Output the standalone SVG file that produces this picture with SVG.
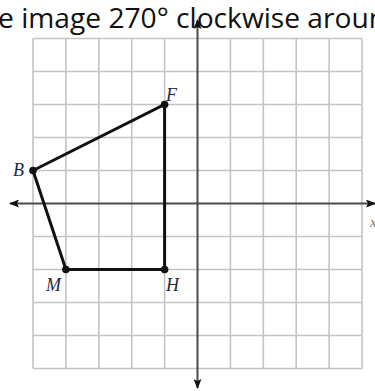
<svg xmlns="http://www.w3.org/2000/svg" width="375" height="391" viewBox="0 0 375 391">
<style>
.grid{stroke:#c4c4c4;stroke-width:1.6;fill:none}
.axis{stroke:#4a4a4a;stroke-width:2;fill:none}
.edge{stroke:#111;stroke-width:3;fill:none;stroke-linecap:round}
.pt{fill:#111}
.lbl{font-family:"Liberation Serif",serif;font-style:italic;font-size:18px;fill:#1e2a44}
.title{font-family:"Open Sans","Liberation Sans",sans-serif;font-size:28px;fill:#111}
</style>
<defs>
<marker id="ah" viewBox="0 0 10 8" refX="9" refY="4" markerWidth="10" markerHeight="8" markerUnits="userSpaceOnUse" orient="auto">
<path d="M0,0 L10,4 L0,8 L2,4 Z" fill="#111"/>
</marker>
</defs>
<rect width="375" height="391" fill="#fff"/>
<text class="title" x="-2" y="28" textLength="388" lengthAdjust="spacingAndGlyphs">e image 270° clockwise aroun</text>
<g id="grid" class="grid">
<path d="M33,38.5V368.5M65.9,38.5V368.5M98.8,38.5V368.5M131.7,38.5V368.5M164.6,38.5V368.5M230.4,38.5V368.5M263.3,38.5V368.5M296.2,38.5V368.5M329.1,38.5V368.5M362,38.5V368.5"/>
<path d="M33,38.5H362M33,71.5H362M33,104.5H362M33,137.5H362M33,170.5H362M33,236.5H362M33,269.5H362M33,302.5H362M33,335.5H362M33,368.5H362"/>
</g>
<g id="axes" class="axis">
<line x1="197.5" y1="30" x2="197.5" y2="20" marker-end="url(#ah)"/>
<line x1="197.5" y1="30" x2="197.5" y2="388" marker-end="url(#ah)"/>
<line x1="40" y1="203.5" x2="10" y2="203.5" marker-end="url(#ah)"/>
<line x1="40" y1="203.5" x2="375" y2="203.5" marker-end="url(#ah)"/>
</g>
<text x="370" y="227" style="font-family:'Liberation Serif',serif;font-style:italic;font-size:15px;fill:#8a7a60">x</text>
<g id="connectors">
<path class="edge" d="M33,170.5L164.6,104.5L164.6,269.5L65.9,269.5Z"/>
</g>
<g id="node-B"><circle class="pt" cx="33" cy="170.5" r="3.8"/><text class="lbl" x="13" y="176">B</text></g>
<g id="node-F"><circle class="pt" cx="164.6" cy="104.5" r="3.8"/><text class="lbl" x="166" y="101">F</text></g>
<g id="node-H"><circle class="pt" cx="164.6" cy="269.5" r="3.8"/><text class="lbl" x="166" y="291">H</text></g>
<g id="node-M"><circle class="pt" cx="65.9" cy="269.5" r="3.8"/><text class="lbl" x="46" y="291">M</text></g>
</svg>
